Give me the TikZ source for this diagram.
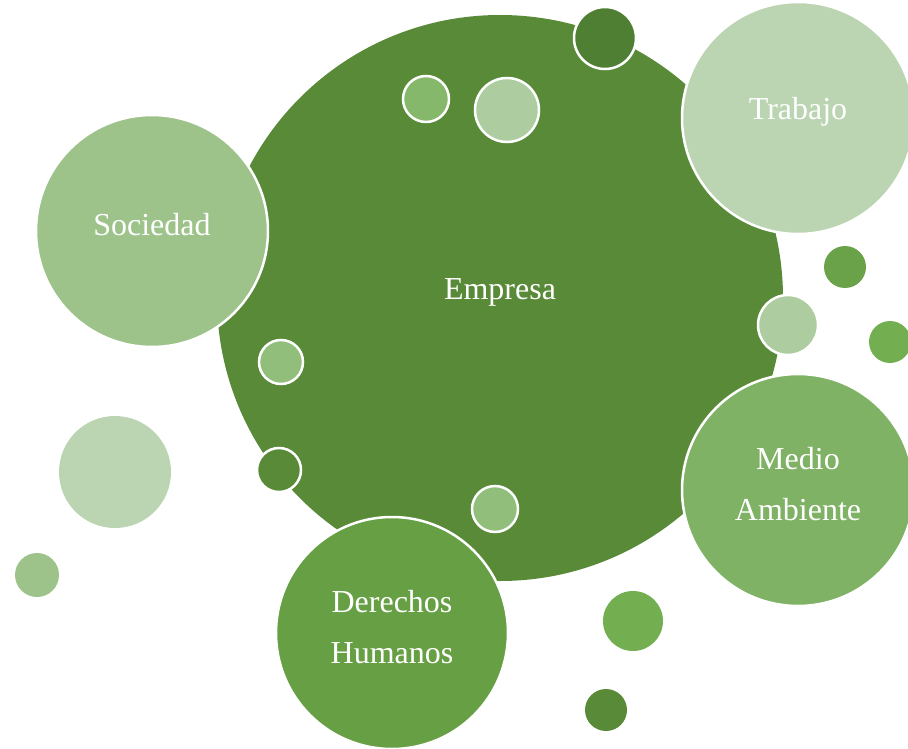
\documentclass[tikz,border=0pt]{standalone}
\usepackage{fontspec}
\setmainfont{Liberation Serif}
\usetikzlibrary{positioning}

\definecolor{gEmpresa}{HTML}{588A37}
\definecolor{gSoc}{HTML}{9DC38B}
\definecolor{gPale}{HTML}{BBD4B1}
\definecolor{gMedio}{HTML}{80B265}
\definecolor{gDer}{HTML}{67A044}
\definecolor{gDark}{HTML}{4F7F33}
\definecolor{gMid}{HTML}{85B86B}
\definecolor{gLight}{HTML}{ADCC9F}
\definecolor{gBright}{HTML}{6AA24A}
\definecolor{gLime}{HTML}{73AF50}
\definecolor{gSoft}{HTML}{91BF7B}

\begin{document}
\begin{tikzpicture}[x=1pt,y=-1pt]

\tikzset{bubble/.style={shape=circle,draw=white,line width=2.5pt,inner sep=0pt,minimum size=232pt},
dot/.style={shape=circle,draw=white,line width=2.5pt,inner sep=0pt},
caption/.style={text=white,font=\fontsize{32}{51}\selectfont,align=center}}

\path[use as bounding box] (0,0) rectangle (908,749);

% Main circle
\node[dot,fill=gEmpresa,draw=none,minimum size=566pt] (empresa) at (500,298) {};
\node[caption] (empresaLabel) at (500,292) {Empresa};

% Small dots on the main circle
\node[dot,fill=gDark,minimum size=62pt] (d1) at (605,38) {};
\node[dot,fill=gMid,minimum size=46pt] (d2) at (426,99) {};
\node[dot,fill=gLight,minimum size=64pt] (d3) at (507,110) {};
\node[dot,fill=gLight,minimum size=60pt] (d4) at (788,325) {};
\node[dot,fill=gSoft,minimum size=44pt] (d5) at (281,362) {};
\node[dot,fill=gEmpresa,minimum size=44pt] (d6) at (279,470) {};
\node[dot,fill=gSoft,minimum size=46pt] (d7) at (495,509) {};

% Outer circles
\node[bubble,fill=gSoc] (sociedad) at (152,231) {};
\node[caption] (socLabel) at (152,225) {Sociedad};
\node[bubble,fill=gPale] (trabajo) at (798,118) {};
\node[caption] (trabLabel) at (798,112) {Trabajo};
\node[bubble,fill=gMedio] (medio) at (798,490) {};
\node[caption] (medioLabel) at (798,484) {Medio\\Ambiente};
\node[bubble,fill=gDer] (derechos) at (392,633) {};
\node[caption] (derLabel) at (392,627) {Derechos\\Humanos};

% Loose dots
\node[dot,draw=none,fill=gBright,minimum size=42pt] (d8) at (845,267) {};
\node[dot,draw=none,fill=gLime,minimum size=42pt] (d9) at (890,342) {};
\node[dot,draw=none,fill=gPale,minimum size=112pt] (d10) at (115,472) {};
\node[dot,draw=none,fill=gSoc,minimum size=44pt] (d11) at (37,575) {};
\node[dot,draw=none,fill=gLime,minimum size=60pt] (d12) at (633,621) {};
\node[dot,draw=none,fill=gEmpresa,minimum size=42pt] (d13) at (606,710) {};

\end{tikzpicture}
\end{document}
